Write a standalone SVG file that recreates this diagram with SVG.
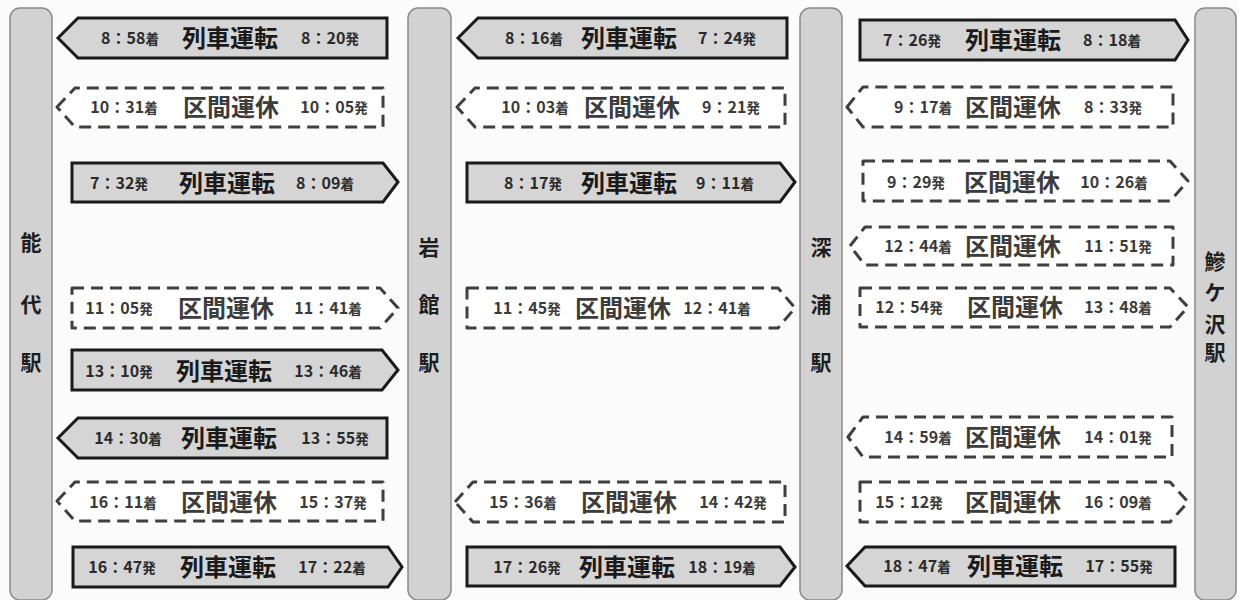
<svg xmlns="http://www.w3.org/2000/svg" width="1239" height="600" viewBox="0 0 1239 600">
<style>
.bg{fill:#fbfbfb}
.st rect{fill:#d2d2d2;stroke:#8a8a8a;stroke-width:1.5}
.st text{font-family:"Noto Sans CJK JP","Noto Sans",sans-serif;font-weight:700;font-size:21px;fill:#1e1e1e;text-anchor:middle}
.run path{fill:#d5d5d5;stroke:#1a1a1a;stroke-width:3;stroke-linejoin:miter}
.stop path{fill:#ffffff;stroke:#3f3f3f;stroke-width:3;stroke-dasharray:12 7;stroke-linejoin:round}
text.t{font-family:"Noto Sans CJK JP","Noto Sans",sans-serif;font-weight:700;font-size:16px;fill:#2b2b2b;text-anchor:middle}
text.t tspan{font-size:13.5px}
text.h{font-family:"Noto Sans CJK JP","Noto Sans",sans-serif;font-weight:700;font-size:24px;fill:#1a1a1a;text-anchor:middle}
.stop text.h{fill:#3c3c3c;font-weight:700}
.stop text.t{fill:#3a3a3a}
</style>
<rect class="bg" x="0" y="0" width="1239" height="600"/>
<g id="stations" class="st">
<g id="st-noshiro"><rect x="10" y="8" width="42" height="592" rx="10"/><text x="31" y="250">能</text><text x="31" y="312">代</text><text x="31" y="370">駅</text></g>
<g id="st-iwadate"><rect x="408" y="8" width="43" height="592" rx="10"/><text x="429" y="255">岩</text><text x="429" y="312">館</text><text x="429" y="370">駅</text></g>
<g id="st-fukaura"><rect x="800" y="8" width="42" height="592" rx="10"/><text x="821" y="255">深</text><text x="821" y="312">浦</text><text x="821" y="370">駅</text></g>
<g id="st-ajigasawa"><rect x="1195" y="8" width="41" height="592" rx="10"/><text x="1215" y="269">鰺</text><text x="1215" y="300">ケ</text><text x="1215" y="332">沢</text><text x="1215" y="360">駅</text></g>
</g>
<g id="connectors">
<!-- column 1 -->
<g id="c1r1" class="run"><path d="M58,38 L78,18 L387,18 L387,58 L78,58 Z"/><text class="t" x="130" y="44">8：58<tspan>着</tspan></text><text class="h" x="230" y="47">列車運転</text><text class="t" x="330" y="44">8：20<tspan>発</tspan></text></g>
<g id="c1r2" class="stop"><path d="M57,107 L75,88 L383,88 L383,127 L75,127 Z"/><text class="t" x="124" y="113">10：31<tspan>着</tspan></text><text class="h" x="231" y="116">区間運休</text><text class="t" x="334" y="113">10：05<tspan>発</tspan></text></g>
<g id="c1r3" class="run"><path d="M72,163 L383,163 L398,182 L383,202 L72,202 Z"/><text class="t" x="119" y="189">7：32<tspan>発</tspan></text><text class="h" x="227" y="192">列車運転</text><text class="t" x="325" y="189">8：09<tspan>着</tspan></text></g>
<g id="c1r4" class="stop"><path d="M72,288 L380,288 L398,308 L380,328 L72,328 Z"/><text class="t" x="119" y="314">11：05<tspan>発</tspan></text><text class="h" x="226" y="317">区間運休</text><text class="t" x="328" y="314">11：41<tspan>着</tspan></text></g>
<g id="c1r5" class="run"><path d="M72,350 L382,350 L398,370 L382,390 L72,390 Z"/><text class="t" x="119" y="377">13：10<tspan>発</tspan></text><text class="h" x="224" y="380">列車運転</text><text class="t" x="328" y="377">13：46<tspan>着</tspan></text></g>
<g id="c1r6" class="run"><path d="M58,438 L78,418 L387,418 L387,458 L78,458 Z"/><text class="t" x="128" y="444">14：30<tspan>着</tspan></text><text class="h" x="229" y="447">列車運転</text><text class="t" x="335" y="444">13：55<tspan>発</tspan></text></g>
<g id="c1r7" class="stop"><path d="M57,501 L75,482 L383,482 L383,521 L75,521 Z"/><text class="t" x="123" y="508">16：11<tspan>着</tspan></text><text class="h" x="229" y="511">区間運休</text><text class="t" x="333" y="508">15：37<tspan>発</tspan></text></g>
<g id="c1r8" class="run"><path d="M73,547 L388,547 L402,567 L388,587 L73,587 Z"/><text class="t" x="122" y="573">16：47<tspan>発</tspan></text><text class="h" x="228" y="576">列車運転</text><text class="t" x="332" y="573">17：22<tspan>着</tspan></text></g>
<!-- column 2 -->
<g id="c2r1" class="run"><path d="M458,38 L478,18 L787,18 L787,58 L478,58 Z"/><text class="t" x="534" y="44">8：16<tspan>着</tspan></text><text class="h" x="629" y="47">列車運転</text><text class="t" x="727" y="44">7：24<tspan>発</tspan></text></g>
<g id="c2r2" class="stop"><path d="M457,107 L475,88 L785,88 L785,127 L475,127 Z"/><text class="t" x="535" y="113">10：03<tspan>着</tspan></text><text class="h" x="632" y="116">区間運休</text><text class="t" x="731" y="113">9：21<tspan>発</tspan></text></g>
<g id="c2r3" class="run"><path d="M467,163 L780,163 L795,182 L780,202 L467,202 Z"/><text class="t" x="533" y="189">8：17<tspan>発</tspan></text><text class="h" x="629" y="192">列車運転</text><text class="t" x="725" y="189">9：11<tspan>着</tspan></text></g>
<g id="c2r4" class="stop"><path d="M467,288 L778,288 L795,308 L778,328 L467,328 Z"/><text class="t" x="527" y="314">11：45<tspan>発</tspan></text><text class="h" x="623" y="317">区間運休</text><text class="t" x="717" y="314">12：41<tspan>着</tspan></text></g>
<g id="c2r7" class="stop"><path d="M455,502 L473,482 L785,482 L785,522 L473,522 Z"/><text class="t" x="523" y="508">15：36<tspan>着</tspan></text><text class="h" x="629" y="511">区間運休</text><text class="t" x="733" y="508">14：42<tspan>発</tspan></text></g>
<g id="c2r8" class="run"><path d="M467,547 L780,547 L795,567 L780,586 L467,586 Z"/><text class="t" x="527" y="573">17：26<tspan>発</tspan></text><text class="h" x="627" y="576">列車運転</text><text class="t" x="722" y="573">18：19<tspan>着</tspan></text></g>
<!-- column 3 -->
<g id="c3r1" class="run"><path d="M860,20 L1175,20 L1188,40 L1175,60 L860,60 Z"/><text class="t" x="912" y="46">7：26<tspan>発</tspan></text><text class="h" x="1013" y="49">列車運転</text><text class="t" x="1112" y="46">8：18<tspan>着</tspan></text></g>
<g id="c3r2" class="stop"><path d="M847,107 L863,87 L1173,87 L1173,127 L863,127 Z"/><text class="t" x="923" y="113">9：17<tspan>着</tspan></text><text class="h" x="1013" y="116">区間運休</text><text class="t" x="1113" y="113">8：33<tspan>発</tspan></text></g>
<g id="c3r3" class="stop"><path d="M863,161 L1170,161 L1188,181 L1170,201 L863,201 Z"/><text class="t" x="916" y="188">9：29<tspan>発</tspan></text><text class="h" x="1012" y="191">区間運休</text><text class="t" x="1114" y="188">10：26<tspan>着</tspan></text></g>
<g id="c3r4" class="stop"><path d="M850,246 L865,227 L1173,227 L1173,265 L865,265 Z"/><text class="t" x="918" y="252">12：44<tspan>着</tspan></text><text class="h" x="1013" y="255">区間運休</text><text class="t" x="1118" y="252">11：51<tspan>発</tspan></text></g>
<g id="c3r5" class="stop"><path d="M860,288 L1170,288 L1188,307 L1170,327 L860,327 Z"/><text class="t" x="909" y="313">12：54<tspan>発</tspan></text><text class="h" x="1015" y="316">区間運休</text><text class="t" x="1118" y="313">13：48<tspan>着</tspan></text></g>
<g id="c3r6" class="stop"><path d="M848,437 L863,417 L1172,417 L1172,457 L863,457 Z"/><text class="t" x="918" y="443">14：59<tspan>着</tspan></text><text class="h" x="1013" y="446">区間運休</text><text class="t" x="1118" y="443">14：01<tspan>発</tspan></text></g>
<g id="c3r7" class="stop"><path d="M860,482 L1170,482 L1188,502 L1170,522 L860,522 Z"/><text class="t" x="909" y="508">15：12<tspan>発</tspan></text><text class="h" x="1013" y="511">区間運休</text><text class="t" x="1118" y="508">16：09<tspan>着</tspan></text></g>
<g id="c3r8" class="run"><path d="M847,566 L865,547 L1175,547 L1175,586 L865,586 Z"/><text class="t" x="917" y="572">18：47<tspan>着</tspan></text><text class="h" x="1015" y="575">列車運転</text><text class="t" x="1119" y="572">17：55<tspan>発</tspan></text></g>
</g>
</svg>
